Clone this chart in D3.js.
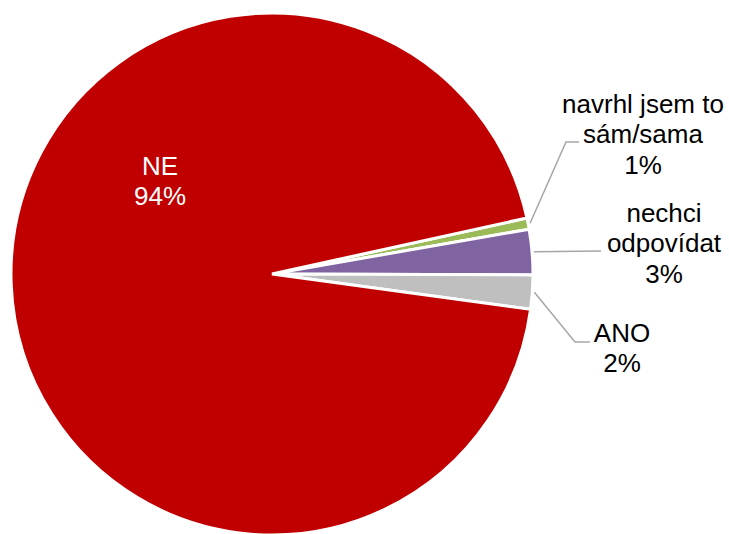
<!DOCTYPE html>
<html>
<head>
<meta charset="utf-8">
<script src="https://cdn.jsdelivr.net/npm/d3@7"></script>
<style>
  html, body { margin: 0; padding: 0; background: #fff; }
  svg { display: block; }
  text { font-family: "Liberation Sans", Arial, sans-serif; }
</style>
</head>
<body>
<svg id="chart" width="729" height="534"></svg>
<script>
// ---- data ----
const categories = ["navrhl jsem to sám/sama", "nechci odpovídat", "ANO", "NE"];
const values = [0.7, 2.8, 2.1, 94.4];
const labelLines = [["navrhl jsem to", "sám/sama"], ["nechci", "odpovídat"], ["ANO"], ["NE"]];
const colors = ["#9BBB59", "#8064A2", "#BFBFBF", "#C00000"];

// ---- layout ----
const W = 729, H = 534;
const cx = 272, cy = 274, R = 261;
const startDeg = 77.6;
const fontSize = 26, lineH = 30.3;
// label anchor (center x, first baseline y) and leader elbow points, per category
const labelLayout = [
  { x: 643, y: 113, color: "#000", leader: [[566, 142], [579, 142]] },
  { x: 664, y: 222, color: "#000", leader: [[601, 251]] },
  { x: 622, y: 342, color: "#000", leader: [[575, 342], [590, 342]] },
  { x: 160, y: 175, color: "#fff", leader: null }
];

const svg = d3.select("#chart");
const g = svg.append("g").attr("transform", `translate(${cx},${cy})`);

const rows = categories.map((c, i) => ({ cat: c, value: values[i], i }));
const total = d3.sum(values);
const pie = d3.pie().sort(null).value(d => d.value)
  .startAngle(startDeg * Math.PI / 180)
  .endAngle(startDeg * Math.PI / 180 + 2 * Math.PI);
const arcs = pie(rows);
const arc = d3.arc().innerRadius(0).outerRadius(R);

g.selectAll("path.slice").data(arcs).enter().append("path")
  .attr("class", "slice")
  .attr("d", arc)
  .attr("fill", d => colors[d.data.i])
  .attr("stroke", "#fff")
  .attr("stroke-width", 3)
  .attr("stroke-linejoin", "miter");

// leader lines
arcs.forEach(a => {
  const lay = labelLayout[a.data.i];
  if (!lay.leader) return;
  const mid = (a.startAngle + a.endAngle) / 2;
  const r0 = R + 2;
  const p0 = [cx + r0 * Math.sin(mid), cy - r0 * Math.cos(mid)];
  const pts = [p0].concat(lay.leader);
  svg.append("path")
    .attr("d", d3.line()(pts))
    .attr("fill", "none")
    .attr("stroke", "#A6A6A6")
    .attr("stroke-width", 1.5);
});

// labels
arcs.forEach(a => {
  const lay = labelLayout[a.data.i];
  const pct = Math.round(a.data.value / total * 100) + "%";
  const lines = labelLines[a.data.i].concat([pct]);
  const t = svg.append("text")
    .attr("text-anchor", "middle")
    .attr("font-size", fontSize)
    .attr("fill", lay.color);
  lines.forEach((ln, k) => {
    t.append("tspan").attr("x", lay.x).attr("y", lay.y + k * lineH).text(ln);
  });
});
</script>
</body>
</html>
